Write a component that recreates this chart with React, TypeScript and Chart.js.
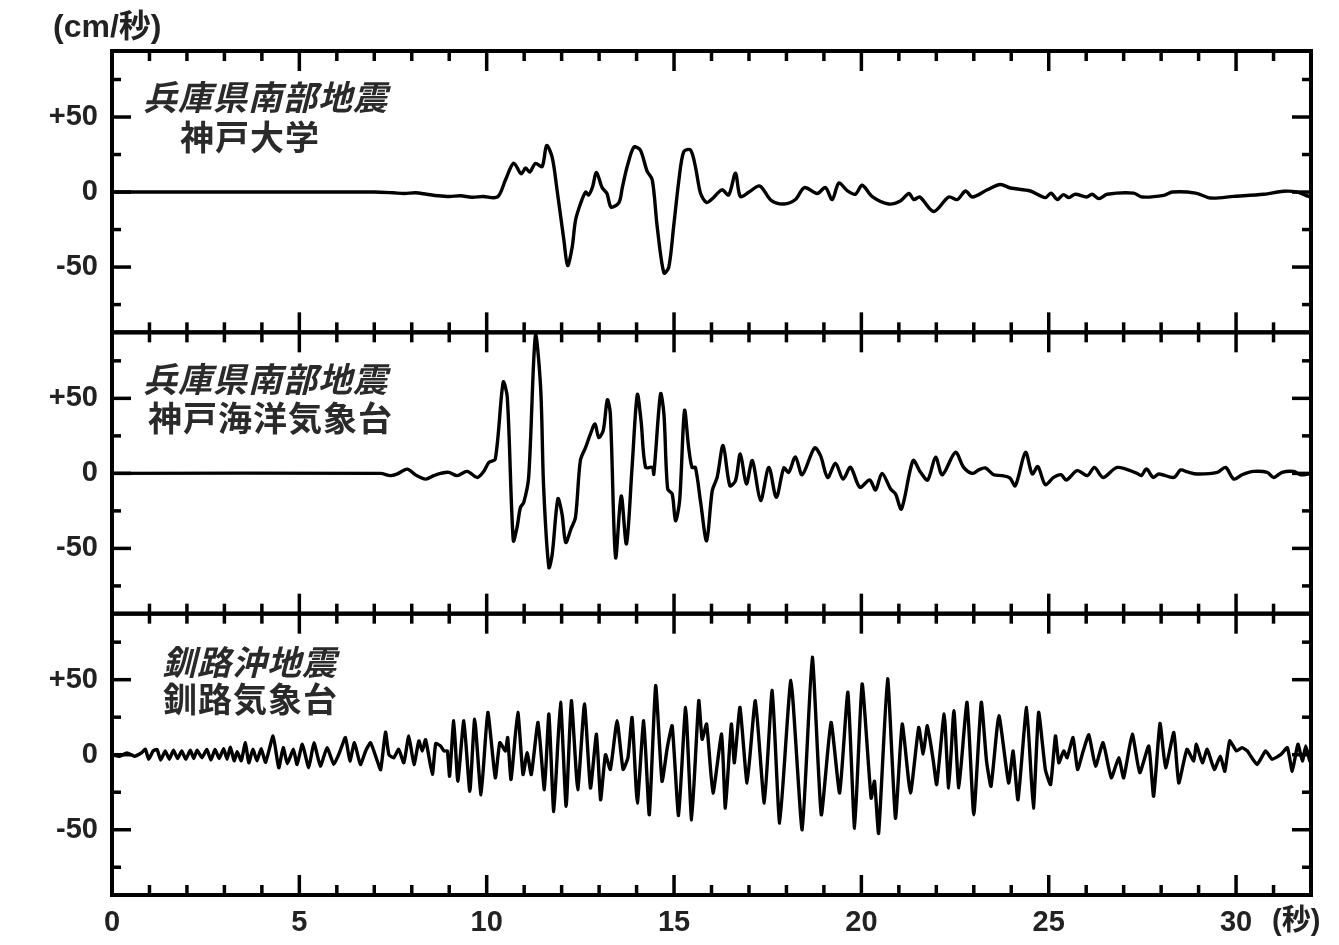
import React, { useEffect, useRef } from "react";
import { Chart, registerables } from "chart.js";

Chart.register(...registerables);

// ---- Data (seconds / cm/s) ----
const kobeUnivTime = [0, 7.0, 7.5, 7.8, 8.1, 8.4, 8.7, 9.0, 9.3, 9.6, 9.9, 10.29, 10.5, 10.72, 10.92, 11.04, 11.15, 11.3, 11.48, 11.6, 11.75, 11.88, 12.06, 12.16, 12.28, 12.37, 12.5, 12.64, 12.72, 12.82, 12.93, 13.08, 13.21, 13.32, 13.53, 13.62, 13.75, 13.93, 14.1, 14.28, 14.42, 14.55, 14.73, 14.86, 14.99, 15.13, 15.26, 15.44, 15.57, 15.71, 15.87, 16.02, 16.28, 16.46, 16.64, 16.77, 17.0, 17.29, 17.59, 17.93, 18.24, 18.48, 18.82, 19.04, 19.22, 19.4, 19.62, 19.84, 20.02, 20.29, 20.73, 21.04, 21.27, 21.4, 21.56, 21.93, 22.33, 22.56, 22.78, 22.96, 23.36, 23.71, 23.98, 24.51, 24.91, 25.06, 25.23, 25.39, 25.54, 25.71, 26.01, 26.16, 26.34, 26.56, 27.27, 27.49, 28.07, 28.3, 28.92, 29.32, 29.94, 30.74, 31.27, 31.63, 31.94, 32];
const kobeUnivVel = [0, 0, -0.5, -1, -0.5, -1.5, -2.5, -3, -2.5, -3.5, -3, -3.3, 8, 19.3, 12.2, 16, 13.3, 19, 17, 31, 23, 1, -32, -49, -37, -19, -8, 0, -2, 3, 13, 3, -1, -10, -7, 3, 17, 30, 28, 14, 8, -23, -54, -50, -23, 8, 27, 28, 17, -1, -7, -4.5, 1.5, -2, 12.5, -3, 0, 4, -5.5, -8, -5, 3, -1, 3, -5, 6, 1, -1.5, 4.5, -3, -8, -6, -1, -5, -3.3, -13, -3.3, -5, 0.7, -3.3, 1.5, 5, 2.7, 0.7, -3.7, -0.7, -5, -1.7, -3.7, -1.5, -3.3, -1.5, -4.4, -1.5, -0.7, -3.3, -2.2, 0, -0.7, -4, -2.9, -1.5, 0.5, 0, -2.9, -3];

const kobeMarineTime = [0, 7.17, 7.43, 7.6, 7.88, 8.1, 8.37, 8.59, 8.77, 8.99, 9.21, 9.48, 9.75, 9.92, 10.06, 10.23, 10.44, 10.55, 10.71, 10.81, 10.9, 10.99, 11.12, 11.3, 11.44, 11.52, 11.66, 11.75, 11.9, 12.01, 12.11, 12.25, 12.37, 12.5, 12.64, 12.77, 12.89, 12.99, 13.11, 13.22, 13.3, 13.44, 13.59, 13.73, 13.88, 14.02, 14.12, 14.24, 14.42, 14.46, 14.64, 14.73, 14.83, 14.95, 15.04, 15.15, 15.28, 15.39, 15.48, 15.57, 15.71, 15.87, 16.02, 16.15, 16.31, 16.49, 16.64, 16.77, 16.93, 17.09, 17.31, 17.53, 17.73, 17.93, 18.06, 18.24, 18.42, 18.75, 18.91, 19.1, 19.31, 19.51, 19.71, 19.96, 20.22, 20.38, 20.55, 20.78, 20.91, 21.07, 21.38, 21.58, 21.77, 21.98, 22.16, 22.51, 22.73, 22.96, 23.13, 23.31, 23.53, 23.76, 23.96, 24.11, 24.38, 24.56, 24.71, 24.91, 25.13, 25.33, 25.47, 25.76, 26.03, 26.22, 26.45, 26.83, 27.36, 27.47, 27.61, 27.79, 27.94, 28.34, 28.52, 28.7, 28.96, 29.5, 29.72, 29.94, 30.16, 30.47, 30.83, 31.0, 31.23, 31.54, 31.72, 32];
const kobeMarineVel = [0, 0, -1.5, -0.5, 2.8, -1, -3.8, -1.5, 0, 0.7, -1.5, 1.3, -2.7, 1.3, 7.3, 9.6, 60.7, 50.7, -44.9, -36, -22.7, -19.3, -2.7, 91.8, 57, -9.3, -62.7, -53.7, -17, -27, -46, -37, -29.3, 8.5, 17.3, 26.3, 33, 24, 28.5, 49, 39.6, -56, -15, -47, 4, 52.5, 35, 4, 4, -0.5, 53, 39.6, -10.4, -13.7, -31.5, -18, 41.8, 17.3, 4, 4, -19.3, -44.9, -11.5, -2.7, 18.5, -8.2, -4.9, 13, -7, 8.5, -18, 4, -16, 3.6, 0.7, 11, -0.9, 17, 11.8, -2.7, 6.7, -3.8, 4, -9.3, -4.4, -11, 0, -10.4, -13.7, -23.7, 8.5, 0.7, -4.4, 10.7, -0.9, 14, 4, 0, 2.3, 3.6, -0.9, -1.5, -3, -8.2, 14, -0.4, 4.5, -7.5, -2.7, -0.9, -4.4, 1.8, -1.5, 4, -2.7, 4, 0, -1.5, 2.9, -2.7, -0.4, -2.7, 2.3, 1, -0.4, 0.7, 4, -3.8, -0.9, 1.3, 0.7, -2.7, 0.7, 1.3, -0.9, 0];

const kushiroTime = [0, 0.2, 0.4, 0.6, 0.8, 0.89, 0.98, 1.1, 1.2, 1.3, 1.42, 1.53, 1.64, 1.75, 1.86, 1.97, 2.09, 2.18, 2.27, 2.4, 2.53, 2.64, 2.75, 2.86, 2.98, 3.07, 3.16, 3.26, 3.34, 3.45, 3.56, 3.65, 3.76, 3.87, 3.98, 4.1, 4.3, 4.45, 4.57, 4.68, 4.84, 4.94, 5.08, 5.25, 5.39, 5.56, 5.74, 5.92, 6.08, 6.23, 6.35, 6.47, 6.63, 6.77, 6.9, 7.08, 7.17, 7.3, 7.39, 7.52, 7.65, 7.79, 7.92, 8.06, 8.19, 8.28, 8.37, 8.55, 8.64, 8.77, 8.86, 8.95, 9.01, 9.12, 9.23, 9.39, 9.55, 9.68, 9.85, 10.03, 10.23, 10.35, 10.5, 10.56, 10.65, 10.83, 10.97, 11.08, 11.19, 11.37, 11.54, 11.66, 11.79, 11.97, 12.12, 12.26, 12.43, 12.61, 12.77, 12.93, 13.04, 13.17, 13.3, 13.48, 13.64, 13.77, 13.88, 14.02, 14.19, 14.34, 14.51, 14.68, 14.82, 14.95, 15.12, 15.31, 15.47, 15.66, 15.75, 15.87, 16.04, 16.27, 16.37, 16.53, 16.61, 16.76, 16.95, 17.17, 17.41, 17.62, 17.82, 18.12, 18.42, 18.69, 18.93, 19.19, 19.42, 19.64, 19.82, 20.02, 20.26, 20.35, 20.46, 20.7, 20.91, 21.09, 21.31, 21.53, 21.65, 21.76, 21.92, 22.01, 22.21, 22.33, 22.47, 22.6, 22.82, 23.0, 23.2, 23.34, 23.46, 23.67, 23.93, 24.05, 24.18, 24.41, 24.59, 24.73, 24.91, 25.05, 25.18, 25.27, 25.4, 25.49, 25.65, 25.77, 25.92, 26.07, 26.25, 26.45, 26.67, 26.87, 27.0, 27.23, 27.43, 27.67, 27.8, 27.97, 28.12, 28.34, 28.47, 28.69, 28.87, 28.94, 29.1, 29.23, 29.42, 29.58, 29.7, 29.83, 30.01, 30.16, 30.3, 30.56, 30.79, 30.96, 31.19, 31.37, 31.5, 31.65, 31.77, 31.86, 31.97, 32];
const kushiroVel = [0, -1, 1.2, -1, 1.5, 3.6, -3, 2.5, 3.5, -3.5, 2.5, -3, 3, -2.5, 2.5, -3, 3, -2.5, 3, -2, 3.5, -3.5, 3.5, -2.5, 4, -3, 5, -4, 2, -4, 8, -5.4, 3.6, -4, 4, -5, 12.5, -8.7, 4.7, -6, 3.6, -6.5, 7, -8.7, 8, -7.6, 4.7, -6.5, 2, 11.4, -4.2, 8, -6.5, 2.5, 8, -4.2, -10, 15, 0, -2, 3.6, -5.4, 12.5, -6.5, 9.2, 2.5, 10, -13, 7.4, 5.8, 2.5, 2.5, -14.3, 22.6, -17.7, 22.6, -24.4, 23.7, -26.6, 28.2, -15.4, 8, 2.5, 11.4, -16.5, 28.2, -13.2, 1.3, -13.2, 21.5, -23.3, 27.1, -37.8, 34.9, -34.4, 36, -23.3, 33.8, -22.2, 13.7, -30, 0, -9.8, 22.6, -9.8, -2, 24.8, -32.2, 22.6, -40, 46.1, -17.7, 4.7, 19.3, -40.5, 31.5, -43.4, 36, 10.3, 20.4, -25.5, 13.7, -35.6, 20.4, -5.4, 31.5, -18.8, 36, -32.2, 42.8, -45.6, 49.5, -50, 65, -40, 21.5, -25.5, 41.6, -49, 47.2, -28.9, -17.7, -52.3, 50.6, -42.3, 20.4, -25.5, 18.1, 0.5, 19.3, -4.2, -19.9, 27.1, -22.2, 29.3, -22, 34.9, -40, 34.9, -4.2, -21, 26, -18.8, 2.5, -30, 31.5, -35.6, 28.2, -9.8, -19.9, 12.5, -5.4, 2.5, -2, 11.4, -9.8, 2.5, 13.2, -7.6, 8, -15.4, -2, -15.4, 13.7, -12, 5.8, -27.7, 20.8, -8.7, 14.8, -18.8, 3.6, -4.2, 7, -5.4, 3.6, -9.8, -1, -11, 9.2, 2.5, 4.7, 2.5, -6.5, 2.5, -3, 0, 4.7, -11, 7, -4.2, 5.8, -4.2, -2];

const xTickValues = [0, 5, 10, 15, 20, 25, 30];
const yTickValues = [-50, 0, 50];
const yMinorTicks = [-75, -25, 25, 75];
const panelTitles = [
  ["兵庫県南部地震", "神戸大学"],
  ["兵庫県南部地震", "神戸海洋気象台"],
  ["釧路沖地震", "釧路気象台"],
];
const yUnitLabel = "(cm/秒)";
const xUnitLabel = "(秒)";

// panel order top -> bottom
const PANEL_IDS = ["yTop", "yMid", "yBot"];

const LATIN = '"Liberation Sans", Arial, "Noto Sans CJK JP", sans-serif';
const CJK = '"Noto Sans CJK JP", "Noto Sans CJK SC", sans-serif';
const TEXT = "#222";

const toPoints = (t: number[], v: number[]) => t.map((x, i) => ({ x, y: v[i] }));

const framePlugin = {
  id: "frame",
  afterDraw(chart: any) {
    const { ctx, chartArea: ca, scales } = chart;
    const xs = scales.x;
    ctx.save();
    ctx.strokeStyle = "#000";
    ctx.lineCap = "butt";
    const line = (x1: number, y1: number, x2: number, y2: number) => {
      ctx.beginPath();
      ctx.moveTo(x1, y1);
      ctx.lineTo(x2, y2);
      ctx.stroke();
    };
    PANEL_IDS.forEach((id, pi) => {
      const s = scales[id];
      const top = s.top;
      const bottom = s.bottom;
      ctx.lineWidth = 3.5;
      for (let t = 1; t < 32; t++) {
        const x = xs.getPixelForValue(t);
        const len = t % 5 === 0 ? 20 : 10;
        line(x, top, x, top + len);
        line(x, bottom, x, bottom - len);
      }
      const allY = [...yTickValues.map((v) => [v, 19]), ...yMinorTicks.map((v) => [v, 9])];
      for (const [v, len] of allY) {
        const y = s.getPixelForValue(v);
        line(ca.left, y, ca.left + len, y);
        line(ca.right, y, ca.right - len, y);
      }
      ctx.lineWidth = 4;
      ctx.strokeRect(ca.left, top, ca.right - ca.left, bottom - top);

      // panel titles
      const [t1, t2] = panelTitles[pi];
      ctx.fillStyle = "#2a2a2a";
      ctx.textAlign = "left";
      ctx.textBaseline = "middle";
      (ctx as any).letterSpacing = "1px";
      ctx.font = `italic bold 34px ${CJK}`;
      const pos = [
        [143, 97, 180, 137],
        [143, 379, 148, 418],
        [162, 662, 163, 699],
      ][pi];
      ctx.fillText(t1, pos[0], pos[1]);
      ctx.font = `bold 34px ${CJK}`;
      ctx.fillText(t2, pos[2], pos[3]);
      (ctx as any).letterSpacing = "0px";
    });
    ctx.fillStyle = TEXT;
    ctx.textAlign = "left";
    ctx.textBaseline = "middle";
    ctx.font = `bold 32px ${LATIN}`;
    ctx.fillText(yUnitLabel, 53, 28);
    ctx.font = `bold 29px ${LATIN}`;
    ctx.fillText(xUnitLabel, 1272, 922);
    ctx.restore();
  },
};

const yScale = () => ({
  type: "linear",
  position: "left",
  stack: "panels",
  stackWeight: 1,
  min: -93.5,
  max: 94,
  afterBuildTicks: (s: any) => {
    s.ticks = yTickValues.map((value) => ({ value }));
  },
  afterFit: (s: any) => {
    s.width = 112;
  },
  grid: { display: false, drawTicks: false },
  border: { display: false },
  ticks: {
    padding: 14,
    color: TEXT,
    font: { family: LATIN, size: 29, weight: "bold" },
    callback: (v: number) => (v > 0 ? "+" + v : String(v)),
  },
});

export default function App() {
  const ref = useRef<HTMLCanvasElement | null>(null);
  useEffect(() => {
    if (!ref.current) return;
    const ds = (t: number[], v: number[], yAxisID: string, tension: number) => ({
      data: toPoints(t, v),
      xAxisID: "x",
      yAxisID,
      borderColor: "#000",
      borderWidth: 3.4,
      pointRadius: 0,
      tension,
      fill: false,
    });
    const chart = new Chart(ref.current, {
      type: "line",
      data: {
        datasets: [
          ds(kobeUnivTime, kobeUnivVel, "yTop", 0.3),
          ds(kobeMarineTime, kobeMarineVel, "yMid", 0.3),
          ds(kushiroTime, kushiroVel, "yBot", 0.15),
        ],
      },
      options: {
        responsive: false,
        devicePixelRatio: 1,
        animation: false,
        layout: { padding: { top: 51, right: 28, left: 0, bottom: 0 } },
        plugins: { legend: { display: false }, tooltip: { enabled: false }, title: { display: false } },
        scales: {
          x: {
            type: "linear",
            position: "bottom",
            min: 0,
            max: 32,
            afterBuildTicks: (s: any) => {
              s.ticks = xTickValues.map((value) => ({ value }));
            },
            afterFit: (s: any) => {
              s.height = 50;
            },
            grid: { display: false, drawTicks: false },
            border: { display: false },
            ticks: {
              padding: 11,
              maxRotation: 0,
              autoSkip: false,
              color: TEXT,
              font: { family: LATIN, size: 29, weight: "bold" },
            },
          },
          // left stacked axes are laid out in reverse definition order
          yBot: yScale(),
          yMid: yScale(),
          yTop: yScale(),
        } as any,
      },
      plugins: [framePlugin],
    } as any);
    if ((document as any).fonts) {
      (document as any).fonts
        .load(`bold 34px ${CJK}`, "兵庫県南部地震神戸大学")
        .then(() => chart.update())
        .catch(() => {});
    }
    return () => chart.destroy();
  }, []);
  return (
    <div style={{ position: "absolute", left: 0, top: 0, width: 1339, height: 945, background: "#fff" }}>
      <canvas ref={ref} width={1339} height={945} style={{ display: "block", width: 1339, height: 945 }} />
    </div>
  );
}
